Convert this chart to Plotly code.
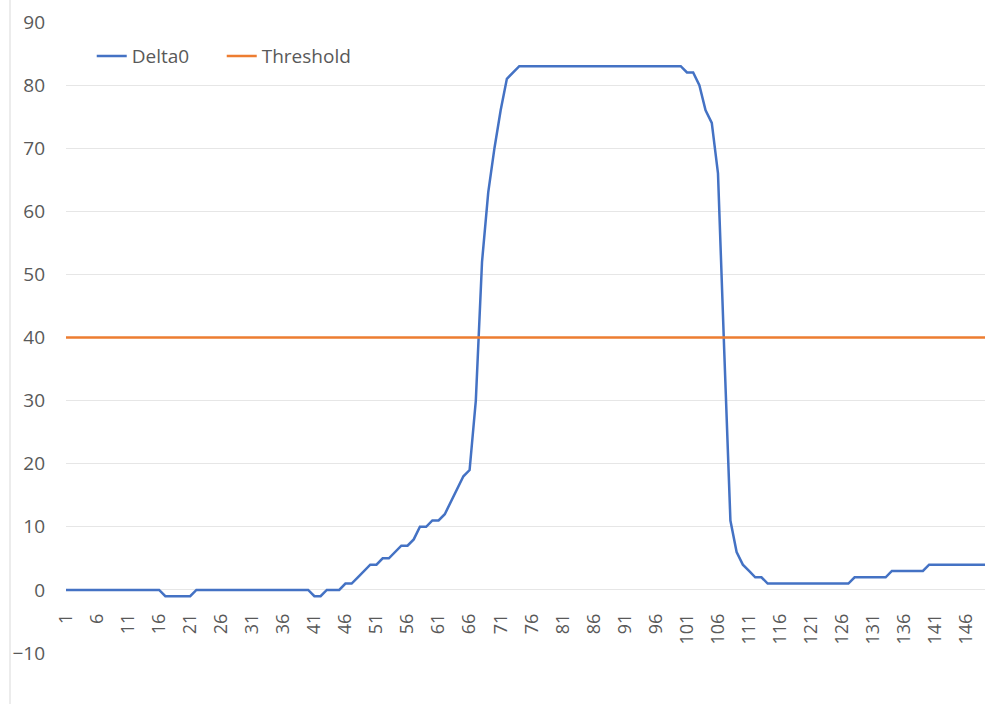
import plotly.graph_objects as go

# ---- data ----
categories = list(range(1, 150))

delta0 = (
    [0] * 16            # 1-16
    + [-1] * 5          # 17-21
    + [0] * 19          # 22-40
    + [-1] * 2          # 41-42
    + [0] * 3           # 43-45
    + [1, 1, 2, 3, 4, 4, 5, 5, 6, 7, 7, 8, 10, 10, 11, 11, 12, 14, 16, 18, 19,   # 46-66
       30, 52, 63, 70, 76, 81, 82]                                               # 67-73
    + [83] * 27         # 74-100
    + [82, 82, 80, 76, 74, 66, 38, 11, 6, 4, 3, 2, 2]                           # 101-113
    + [1] * 14          # 114-127
    + [2] * 6           # 128-133
    + [3] * 6           # 134-139
    + [4] * 10          # 140-149
)

threshold = [40] * len(categories)

tick_values = list(range(1, 150, 5))
tick_labels = [str(v) for v in tick_values]

y_ticks = [-10, 0, 10, 20, 30, 40, 50, 60, 70, 80, 90]

FONT = "Open Sans"
GREY = "#595959"

fig = go.Figure()
fig.add_trace(go.Scatter(x=categories, y=delta0, mode="lines", name="Delta0",
                         line=dict(color="#4472C4", width=2.5)))
fig.add_trace(go.Scatter(x=categories, y=threshold, mode="lines", name="Threshold",
                         line=dict(color="#ED7D31", width=2.5)))

PLOT_TOP, PLOT_BOTTOM = 22, 653
zero_pos = (PLOT_BOTTOM - 590) / (PLOT_BOTTOM - PLOT_TOP)

fig.update_layout(
    width=985, height=704,
    margin=dict(l=66, r=0, t=PLOT_TOP, b=704 - PLOT_BOTTOM, pad=0),
    paper_bgcolor="white", plot_bgcolor="white",
    font=dict(family=FONT, size=19, color=GREY),
    showlegend=True,
    legend=dict(orientation="h", x=0.028, y=0.946, xanchor="left", yanchor="middle",
                bgcolor="rgba(0,0,0,0)", font=dict(family=FONT, size=19, color=GREY),
                itemwidth=30, tracegroupgap=0, entrywidth=85, entrywidthmode="pixels"),
    xaxis=dict(range=[1, 149], tickmode="array", tickvals=tick_values, ticktext=tick_labels,
               tickangle=-90, showgrid=False, zeroline=False, showline=False, ticks="",
               anchor="free", position=zero_pos, ticklabelstandoff=19,
               tickfont=dict(family=FONT, size=18, color=GREY)),
    yaxis=dict(range=[-10, 90], tickmode="array", tickvals=y_ticks,
               showgrid=True, gridcolor="#E6E6E6", gridwidth=1, zeroline=False,
               showline=False, ticks="", ticklabelstandoff=20,
               tickfont=dict(family=FONT, size=19, color=GREY)),
    shapes=[dict(type="line", xref="paper", yref="paper",
                 x0=(10 - 66) / 919, x1=(10 - 66) / 919, y0=-0.2, y1=1.1,
                 line=dict(color="#D9D9D9", width=1))],
)

fig.write_html("out.html", config={"displayModeBar": False},
               post_script="document.body.style.margin='0';")
